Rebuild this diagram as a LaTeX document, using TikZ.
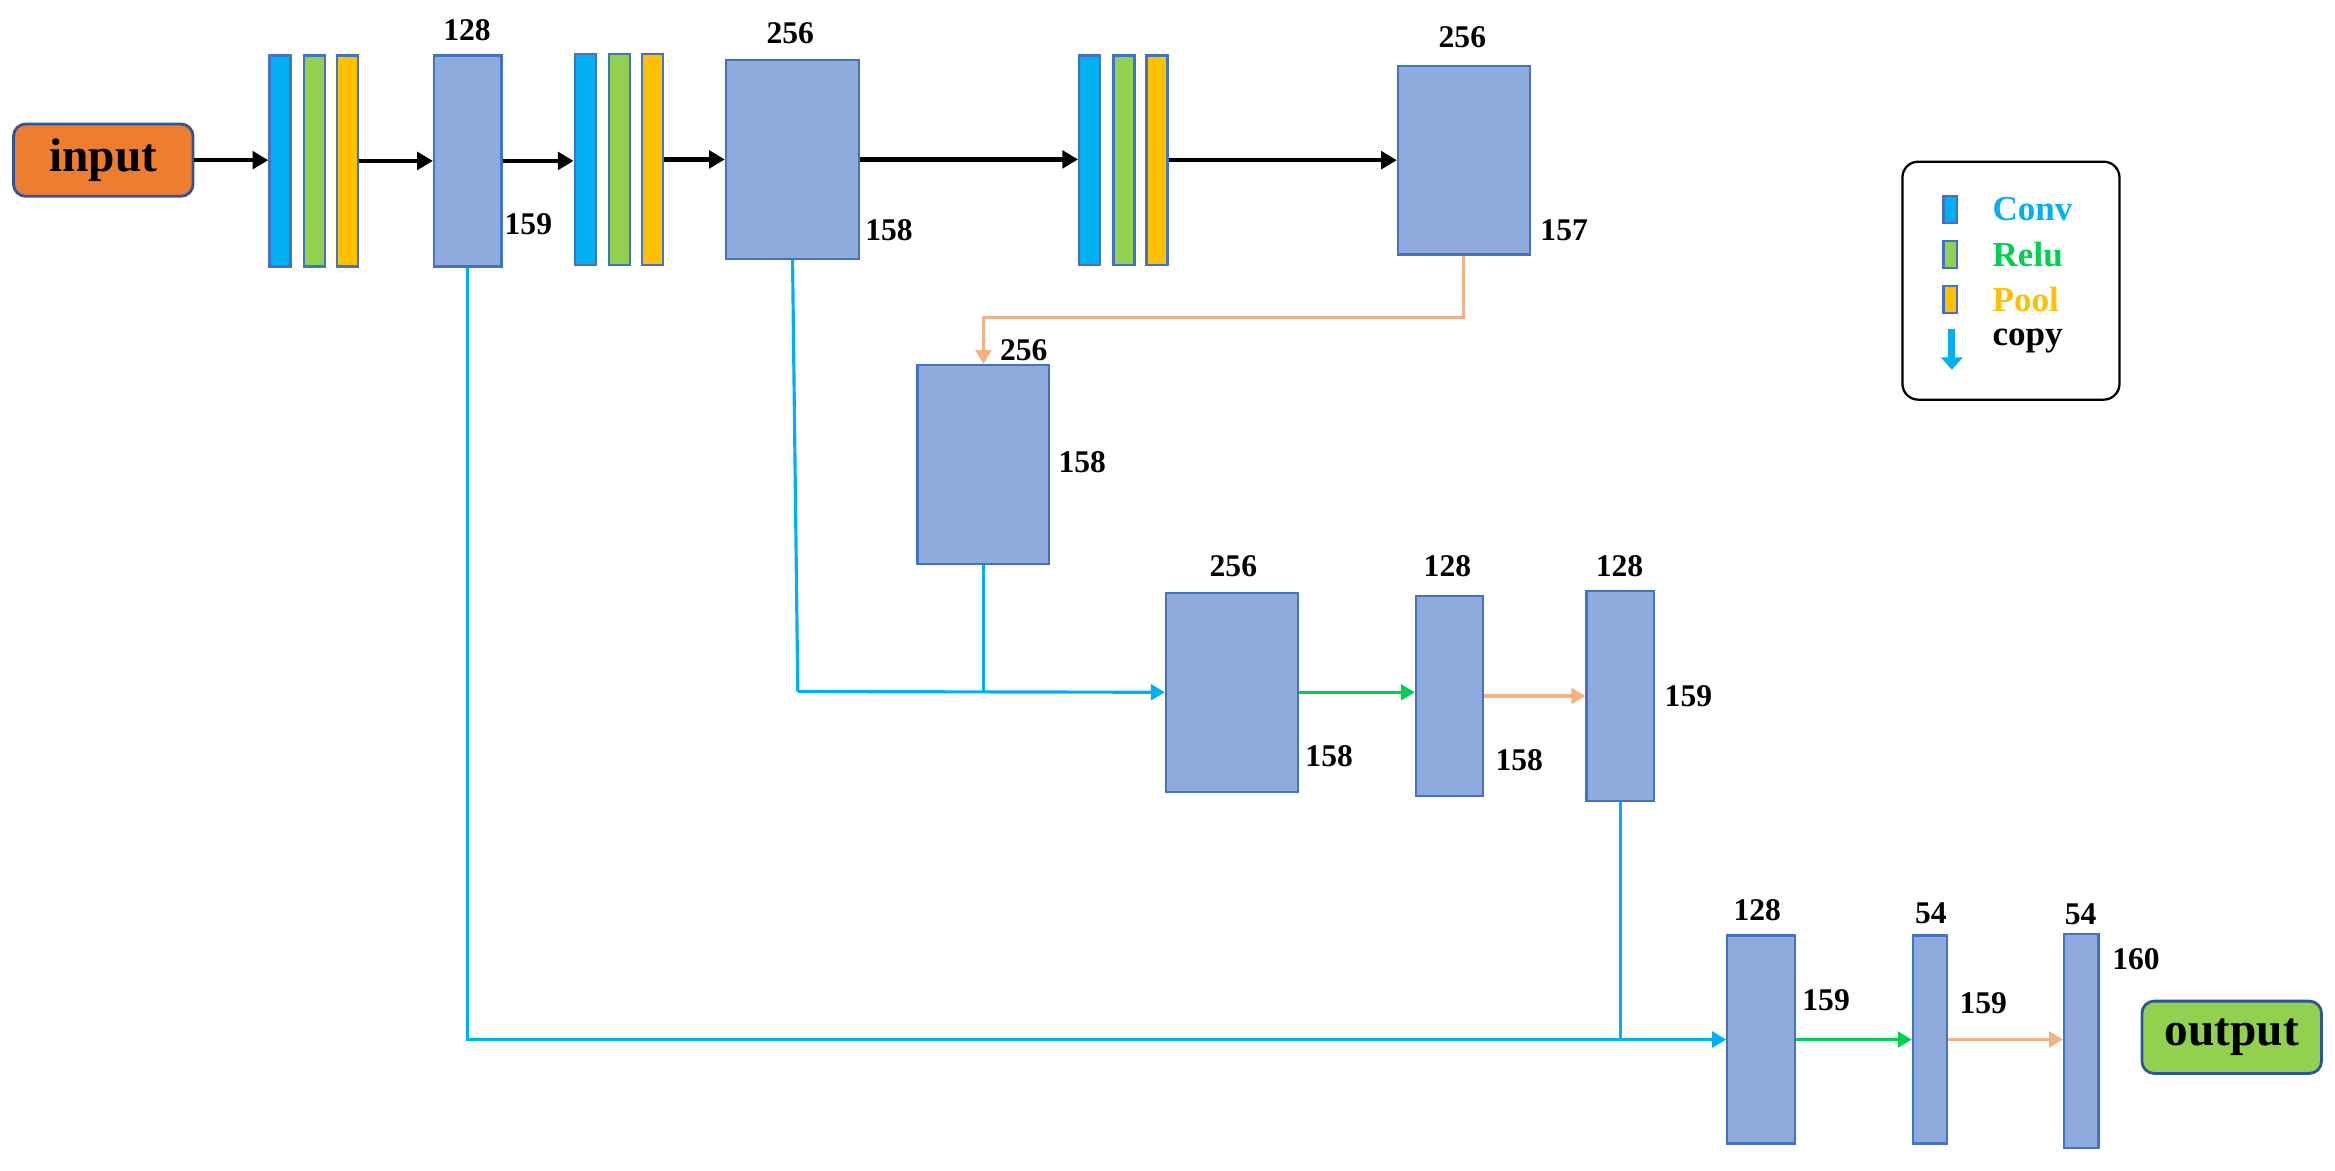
\documentclass[tikz,border=0pt]{standalone}
\usepackage{fontspec}
\setmainfont{Liberation Serif}
\usetikzlibrary{arrows.meta}
\definecolor{bord}{HTML}{4472C4}
\definecolor{fillb}{HTML}{8FAADC}
\definecolor{cyanc}{HTML}{00B0F0}
\definecolor{greenc}{HTML}{92D050}
\definecolor{yellowc}{HTML}{FFC000}
\definecolor{greena}{HTML}{00D050}
\definecolor{orangea}{HTML}{F4B183}
\definecolor{orangein}{HTML}{ED7D31}
\definecolor{darkb}{HTML}{2F5597}
\tikzset{
  blk/.style={draw=bord,line width=1.3pt,inner sep=0pt},
  lbl/.style={font=\bfseries\fontsize{18}{20}\selectfont,inner sep=0pt},
  io/.style={draw=darkb,line width=1.6pt,rounded corners=7pt,font=\bfseries\fontsize{27}{30}\selectfont,
    minimum width=3.6cm,minimum height=1.45cm,inner sep=0pt},
  blackarr/.style={line width=2.4pt,-{Triangle[length=9pt,width=10pt]}},
  cyanline/.style={cyanc,line width=1.8pt},
  cyanarr/.style={cyanc,line width=1.8pt,-{Triangle[length=8pt,width=9pt]}},
  greenarr/.style={greena,line width=1.8pt,-{Triangle[length=8pt,width=9pt]}},
  orangearr/.style={orangea,line width=1.8pt,-{Triangle[length=8pt,width=9pt]}},
  leg/.style={font=\bfseries\fontsize{20}{22}\selectfont,anchor=west,inner sep=0pt}
}
% block: name, x, y, width, height, fill
\newcommand\blk[6]{\node[blk,fill=#6,minimum width=#4*0.03cm,minimum height=#5*0.03cm] (#1) at (#2,#3) {};}
\begin{document}
\begin{tikzpicture}[x=0.03cm,y=-0.03cm]
    \useasboundingbox (0,0) rectangle (1560,782);

    \node[io,fill=orangein] (input) at (69,107) {input};
    \node[io,fill=greenc] (output) at (1491,693) {output};

    % conv / relu / pool stacks
    \blk{s1a}{187}{107.5}{14}{141}{cyanc} \blk{s1b}{210}{107.5}{14}{141}{greenc} \blk{s1c}{232}{107.5}{14}{141}{yellowc}
    \blk{s2a}{391}{106.5}{14}{141}{cyanc} \blk{s2b}{414}{106.5}{14}{141}{greenc} \blk{s2c}{436}{106.5}{14}{141}{yellowc}
    \blk{s3a}{728}{107}{14}{140}{cyanc} \blk{s3b}{751}{107}{14}{140}{greenc} \blk{s3c}{773}{107}{14}{140}{yellowc}

    % feature maps
    \blk{A}{312.5}{107.5}{45}{141}{fillb}
    \blk{B}{529.5}{106.5}{89}{133}{fillb}
    \blk{C}{978}{107}{88}{126}{fillb}
    \blk{D}{657}{310.5}{88}{133}{fillb}
    \blk{E}{823}{462.5}{88}{133}{fillb}
    \blk{F}{968.5}{465}{45}{134}{fillb}
    \blk{G}{1082.5}{465}{45}{140}{fillb}
    \blk{H}{1176.5}{694.5}{45}{139}{fillb}
    \blk{I}{1289.5}{694.5}{23}{139}{fillb}
    \blk{J}{1390.5}{695.5}{23}{143}{fillb}

    \node[lbl] (lA1) at (312,20) {128};  \node[lbl] (lA2) at (353,150) {159};
    \node[lbl] (lB1) at (528,22) {256};  \node[lbl] (lB2) at (594,154) {158};
    \node[lbl] (lC1) at (977,25) {256};  \node[lbl] (lC2) at (1045,154) {157};
    \node[lbl] (lD1) at (684,234) {256}; \node[lbl] (lD2) at (723,309) {158};
    \node[lbl] (lE1) at (824,378) {256}; \node[lbl] (lE2) at (888,505) {158};
    \node[lbl] (lF1) at (967,378) {128}; \node[lbl] (lF2) at (1015,508) {158};
    \node[lbl] (lG1) at (1082,378) {128}; \node[lbl] (lG2) at (1128,465) {159};
    \node[lbl] (lH1) at (1174,608) {128}; \node[lbl] (lH2) at (1220,668) {159};
    \node[lbl] (lI1) at (1290,610) {54}; \node[lbl] (lI2) at (1325,670) {159};
    \node[lbl] (lJ1) at (1390,611) {54}; \node[lbl] (lJ2) at (1427,641) {160};

    % main path
    \draw[blackarr] (input.east) -- (input.east -| s1a.west);
    \draw[blackarr] (s1c.east) -- (s1c.east -| A.west);
    \draw[blackarr] (A.east) -- (A.east -| s2a.west);
    \draw[blackarr] (s2c.east) -- (s2c.east -| B.west);
    \draw[blackarr] (B.east) -- (B.east -| s3a.west);
    \draw[blackarr] (s3c.east) -- (s3c.east -| C.west);

    \coordinate (t1) at (978,212);
    \draw[orangearr] (C.south) -- (t1) -| (D.north);

    % copies
    \coordinate (j1) at (533,462);
    \draw[cyanline] (B.south) -- (j1);
    \draw[cyanarr] (j1) -- (E.west);
    \draw[cyanline] (D.south) -- (D.south |- E.west);
    \draw[cyanarr] (A.south) |- (H.west);
    \draw[cyanline] (G.south) -- (G.south |- H.west);

    \draw[greenarr] (E.east) -- (E.east -| F.west);
    \draw[orangearr] (F.east) -- (G.west);
    \draw[greenarr] (H.east) -- (H.east -| I.west);
    \draw[orangearr] (I.east) -- (I.east -| J.west);

    % legend
    \node[draw,line width=1.3pt,rounded corners=9pt,minimum width=145*0.03cm,minimum height=159*0.03cm] (legend) at (1343.5,187.5) {};
    \blk{k1}{1303}{140}{9}{18}{cyanc}
    \blk{k2}{1303}{170}{9}{18}{greenc}
    \blk{k3}{1303}{200}{9}{18}{yellowc}
    \coordinate (c1) at (1304,220); \coordinate (c2) at (1304,247);
    \draw[cyanc,line width=4pt,-{Triangle[length=7pt,width=12pt]}] (c1) -- (c2);
    \node[leg,text=cyanc] (tk1) at (1331,140) {Conv};
    \node[leg,text=greena] (tk2) at (1331,170) {Relu};
    \node[leg,text=yellowc] (tk3) at (1331,200) {Pool};
    \node[leg] (tk4) at (1331,228) {copy};
\end{tikzpicture}
\end{document}
